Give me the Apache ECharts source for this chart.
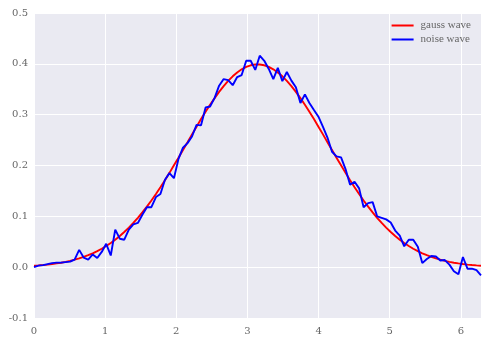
<!DOCTYPE html>
<html>
<head>
<meta charset="utf-8">
<script src="https://cdn.jsdelivr.net/npm/echarts@6/dist/echarts.min.js"></script>
<style>html,body{margin:0;padding:0;background:#fff;}#c{width:487px;height:343px;}</style>
</head>
<body>
<div id="c"></div>
<script>
const xValues = [0, 0.063, 0.127, 0.190, 0.254, 0.317, 0.381, 0.444, 0.508, 0.571,
0.635, 0.698, 0.762, 0.825, 0.889, 0.952, 1.015, 1.079, 1.142, 1.206,
1.269, 1.333, 1.396, 1.460, 1.523, 1.587, 1.650, 1.714, 1.777, 1.841,
1.904, 1.967, 2.031, 2.094, 2.158, 2.221, 2.285, 2.348, 2.412, 2.475,
2.539, 2.602, 2.666, 2.729, 2.793, 2.856, 2.919, 2.983, 3.046, 3.110,
3.173, 3.237, 3.300, 3.364, 3.427, 3.491, 3.554, 3.618, 3.681, 3.745,
3.808, 3.871, 3.935, 3.998, 4.062, 4.125, 4.189, 4.252, 4.316, 4.379,
4.443, 4.506, 4.570, 4.633, 4.697, 4.760, 4.823, 4.887, 4.950, 5.014,
5.077, 5.141, 5.204, 5.268, 5.331, 5.395, 5.458, 5.522, 5.585, 5.649,
5.712, 5.775, 5.839, 5.902, 5.966, 6.029, 6.093, 6.156, 6.220, 6.283];

const gaussWave = [0.0029, 0.0035, 0.0042, 0.0051, 0.0062, 0.0074, 0.0088, 0.0105, 0.0124, 0.0147,
0.0172, 0.0202, 0.0235, 0.0273, 0.0315, 0.0363, 0.0416, 0.0476, 0.0541, 0.0613,
0.0691, 0.0777, 0.0870, 0.0970, 0.1077, 0.1191, 0.1312, 0.1439, 0.1573, 0.1711,
0.1855, 0.2003, 0.2153, 0.2306, 0.2459, 0.2612, 0.2764, 0.2913, 0.3057, 0.3195,
0.3326, 0.3449, 0.3562, 0.3664, 0.3754, 0.3830, 0.3892, 0.3940, 0.3971, 0.3987,
0.3987, 0.3971, 0.3940, 0.3892, 0.3830, 0.3754, 0.3664, 0.3562, 0.3449, 0.3326,
0.3195, 0.3057, 0.2913, 0.2764, 0.2612, 0.2459, 0.2306, 0.2153, 0.2003, 0.1855,
0.1711, 0.1573, 0.1439, 0.1312, 0.1191, 0.1077, 0.0970, 0.0870, 0.0777, 0.0691,
0.0613, 0.0541, 0.0476, 0.0416, 0.0363, 0.0315, 0.0273, 0.0235, 0.0202, 0.0172,
0.0147, 0.0124, 0.0105, 0.0088, 0.0074, 0.0062, 0.0051, 0.0042, 0.0035, 0.0029];

const noiseWave = [0.000, 0.003, 0.004, 0.006, 0.008, 0.009, 0.009, 0.010, 0.011, 0.015,
0.034, 0.019, 0.015, 0.025, 0.018, 0.030, 0.046, 0.023, 0.074, 0.056,
0.054, 0.074, 0.084, 0.087, 0.103, 0.118, 0.118, 0.138, 0.144, 0.172,
0.185, 0.175, 0.213, 0.235, 0.244, 0.257, 0.280, 0.279, 0.314, 0.316,
0.333, 0.357, 0.370, 0.368, 0.358, 0.374, 0.378, 0.406, 0.406, 0.388,
0.416, 0.406, 0.390, 0.370, 0.392, 0.366, 0.384, 0.367, 0.354, 0.323,
0.340, 0.323, 0.309, 0.296, 0.276, 0.255, 0.227, 0.218, 0.216, 0.193,
0.162, 0.168, 0.155, 0.118, 0.126, 0.128, 0.100, 0.097, 0.094, 0.088,
0.072, 0.062, 0.041, 0.054, 0.054, 0.040, 0.008, 0.016, 0.022, 0.021,
0.013, 0.014, 0.005, -0.008, -0.014, 0.020, -0.003, -0.003, -0.006, -0.016];

const seriesNames = ['gauss wave', 'noise wave'];
const xMin = 0, xMax = 6.2832;
const yMin = -0.1, yMax = 0.5;

const pairs = (ys) => xValues.map((x, i) => [x, ys[i]]);
const tickFont = { fontFamily: 'DejaVu Serif', fontSize: 10, color: '#666666' };

const chart = echarts.init(document.getElementById('c'), null, { renderer: 'canvas' });
chart.setOption({
  animation: false,
  backgroundColor: '#ffffff',
  grid: { left: 34, right: 6, top: 13, bottom: 25, show: true, backgroundColor: '#EAEAF2', borderWidth: 0 },
  legend: {
    orient: 'vertical', right: 16, top: 20, padding: 0, itemWidth: 22, itemHeight: 2, itemGap: 3,
    icon: 'rect',
    textStyle: { fontFamily: 'Liberation Serif', fontSize: 11, color: '#666666', padding: [0, 0, 0, 2] },
    data: seriesNames
  },
  xAxis: {
    type: 'value', min: xMin, max: xMax, interval: 1,
    axisLine: { show: false }, axisTick: { show: false },
    splitLine: { show: true, lineStyle: { color: '#ffffff', width: 1 } },
    axisLabel: Object.assign({ margin: 8, showMaxLabel: false }, tickFont)
  },
  yAxis: {
    type: 'value', min: yMin, max: yMax, interval: 0.1,
    axisLine: { show: false }, axisTick: { show: false },
    splitLine: { show: true, lineStyle: { color: '#ffffff', width: 1 } },
    axisLabel: Object.assign({ margin: 6, formatter: (v) => (Math.round(v * 10) / 10).toFixed(1) }, tickFont)
  },
  series: [
    { name: seriesNames[0], type: 'line', data: pairs(gaussWave), showSymbol: false, smooth: false,
      lineStyle: { color: '#ff0000', width: 1.9 }, itemStyle: { color: '#ff0000' } },
    { name: seriesNames[1], type: 'line', data: pairs(noiseWave), showSymbol: false, smooth: false,
      lineStyle: { color: '#0000ff', width: 1.9 }, itemStyle: { color: '#0000ff' } }
  ]
});
</script>
</body>
</html>
